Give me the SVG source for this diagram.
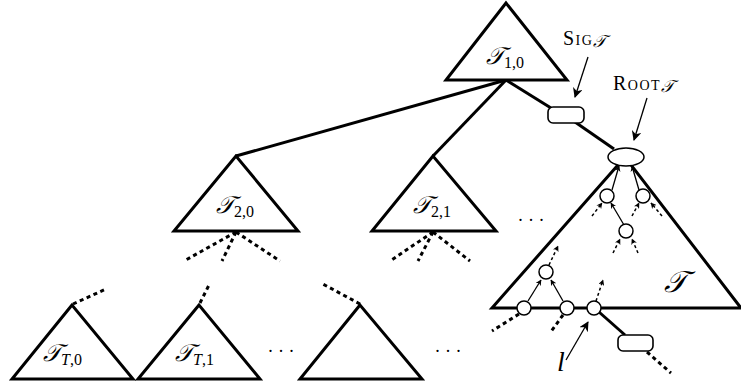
<svg xmlns="http://www.w3.org/2000/svg" width="741" height="385" viewBox="0 0 741 385">
<defs>
<style>
.tri{fill:#fff;stroke:#000;stroke-width:3;stroke-linejoin:miter}
.thick{fill:none;stroke:#000;stroke-width:3}
.dot{fill:none;stroke:#000;stroke-width:3;stroke-dasharray:4 3.5}
.thin{fill:none;stroke:#000;stroke-width:1.3}
.thindot{fill:none;stroke:#000;stroke-width:1.5;stroke-dasharray:3 2.5}
.box{fill:#fff;stroke:#000;stroke-width:1.6}
.cir{fill:#fff;stroke:#000;stroke-width:1.5}
.lbl{font-family:"Liberation Serif","DejaVu Serif",serif;fill:#000}
.cal{font-family:"DejaVu Sans","Noto Sans",serif;font-style:italic}
.sub{font-size:16px}
</style>
<marker id="ah" viewBox="0 0 10 10" refX="9" refY="5" markerWidth="6" markerHeight="6" orient="auto" markerUnits="userSpaceOnUse">
<path d="M0,0 L10,5 L0,10 L3,5 Z" fill="#000"/>
</marker>
<marker id="ahb" viewBox="0 0 10 10" refX="9" refY="5" markerWidth="10" markerHeight="10" orient="auto" markerUnits="userSpaceOnUse">
<path d="M0,0 L10,5 L0,10 L3,5 Z" fill="#000"/>
</marker>
</defs>
<rect width="741" height="385" fill="#fff"/>

<g id="connectors">
<line class="thick" x1="506" y1="80" x2="236" y2="156"/>
<line class="thick" x1="506" y1="80" x2="433" y2="156"/>
<line class="thick" x1="506" y1="80" x2="551" y2="108"/>
<line class="thick" x1="575" y1="122" x2="614" y2="149"/>
<line class="dot" x1="236" y1="232" x2="184" y2="261"/>
<line class="dot" x1="236" y1="232" x2="222" y2="261"/>
<line class="dot" x1="236" y1="232" x2="280" y2="261"/>
<line class="dot" x1="433" y1="232" x2="390" y2="261"/>
<line class="dot" x1="433" y1="232" x2="418" y2="261"/>
<line class="dot" x1="433" y1="232" x2="470" y2="261"/>
<line class="dot" x1="73" y1="304" x2="106" y2="289"/>
<line class="dot" x1="200" y1="303" x2="209" y2="285"/>
<line class="dot" x1="360" y1="304" x2="321" y2="283"/>
<line class="thin" x1="588" y1="57" x2="575" y2="97" marker-end="url(#ahb)"/>
<line class="thin" x1="647" y1="98" x2="634" y2="140" marker-end="url(#ahb)"/>
<line class="thin" x1="566" y1="360" x2="588" y2="322" marker-end="url(#ahb)"/>
</g>

<g id="node-T10">
<polygon class="tri" points="506,3 446,80 567,80"/>
<text class="lbl" x="486" y="64" font-size="24"><tspan class="cal">𝒯</tspan><tspan class="sub" dy="4">1,0</tspan></text>
</g>
<g id="node-T20">
<polygon class="tri" points="236,156 174,231 298,231"/>
<text class="lbl" x="216" y="213" font-size="24"><tspan class="cal">𝒯</tspan><tspan class="sub" dy="4">2,0</tspan></text>
</g>
<g id="node-T21">
<polygon class="tri" points="433,156 372,231 496,231"/>
<text class="lbl" x="413" y="213" font-size="24"><tspan class="cal">𝒯</tspan><tspan class="sub" dy="4">2,1</tspan></text>
</g>
<g id="node-TT0">
<polygon class="tri" points="72,305 12,379 133,379"/>
<text class="lbl" x="43" y="361" font-size="24"><tspan class="cal">𝒯</tspan><tspan class="sub" dy="4"><tspan font-style="italic">T</tspan>,0</tspan></text>
</g>
<g id="node-TT1">
<polygon class="tri" points="199,305 138,379 260,379"/>
<text class="lbl" x="175" y="361" font-size="24"><tspan class="cal">𝒯</tspan><tspan class="sub" dy="4"><tspan font-style="italic">T</tspan>,1</tspan></text>
</g>
<g id="node-TT2">
<polygon class="tri" points="360,305 300,379 422,379"/>
</g>
<g id="dots">
<text class="lbl" x="531" y="226" font-size="18" text-anchor="middle">· · ·</text>
<text class="lbl" x="281" y="357" font-size="18" text-anchor="middle">· · ·</text>
<text class="lbl" x="448" y="357" font-size="18" text-anchor="middle">· · ·</text>
</g>

<g id="node-T">
<polygon class="tri" points="625,157 492,308 741,308"/>
<text class="lbl" x="664" y="292" font-size="30"><tspan class="cal">𝒯</tspan></text>
</g>
<g id="inner-connectors">
<line class="thin" x1="612" y1="190" x2="619" y2="166" marker-end="url(#ah)"/>
<line class="thin" x1="639" y1="190" x2="632" y2="166" marker-end="url(#ah)"/>
<line class="thin" x1="624" y1="225" x2="611" y2="203" marker-end="url(#ah)"/>
<line class="thindot" x1="592" y1="216" x2="602" y2="203" marker-end="url(#ah)"/>
<line class="thindot" x1="632" y1="216" x2="639" y2="203" marker-end="url(#ah)"/>
<line class="thindot" x1="662" y1="216" x2="651" y2="203" marker-end="url(#ah)"/>
<line class="thindot" x1="613" y1="253" x2="620" y2="239" marker-end="url(#ah)"/>
<line class="thindot" x1="638" y1="253" x2="632" y2="239" marker-end="url(#ah)"/>
<line class="thin" x1="528" y1="301" x2="541" y2="280" marker-end="url(#ah)"/>
<line class="thin" x1="563" y1="301" x2="551" y2="280" marker-end="url(#ah)"/>
<line class="thindot" x1="549" y1="265" x2="558" y2="246" marker-end="url(#ah)"/>
<line class="thindot" x1="596" y1="301" x2="603" y2="280" marker-end="url(#ah)"/>
<line class="dot" x1="519" y1="314" x2="492" y2="331"/>
<line class="dot" x1="563" y1="315" x2="550" y2="333"/>
<line class="thick" x1="599" y1="312" x2="625" y2="335"/>
<line class="dot" x1="647" y1="352" x2="671" y2="373"/>
</g>
<g id="node-sig">
<rect class="box" x="548" y="107" width="36" height="16" rx="5"/>
</g>
<g id="node-root">
<ellipse class="cir" cx="626" cy="157" rx="18" ry="9"/>
</g>
<g id="node-c1"><circle class="cir" cx="607" cy="196" r="7"/></g>
<g id="node-c2"><circle class="cir" cx="643" cy="196" r="7"/></g>
<g id="node-c3"><circle class="cir" cx="626" cy="231" r="7"/></g>
<g id="node-c4"><circle class="cir" cx="546" cy="272" r="7"/></g>
<g id="node-c5"><circle class="cir" cx="524" cy="308" r="7"/></g>
<g id="node-c6"><circle class="cir" cx="567" cy="308" r="7"/></g>
<g id="node-c7"><circle class="cir" cx="594" cy="308" r="7"/></g>
<g id="node-leafbox">
<rect class="box" x="618" y="335" width="35" height="16" rx="5"/>
</g>
<g id="labels">
<text class="lbl" x="563" y="45" font-size="20" font-variant="small-caps" letter-spacing="1.5">Sig<tspan class="cal" font-size="17" dy="2" letter-spacing="0">𝒯</tspan></text>
<text class="lbl" x="613" y="90" font-size="20" font-variant="small-caps" letter-spacing="1.5">Root<tspan class="cal" font-size="17" dy="2" letter-spacing="0">𝒯</tspan></text>
<text class="lbl" x="557" y="371" font-size="28" font-style="italic">l</text>
</g>
</svg>
